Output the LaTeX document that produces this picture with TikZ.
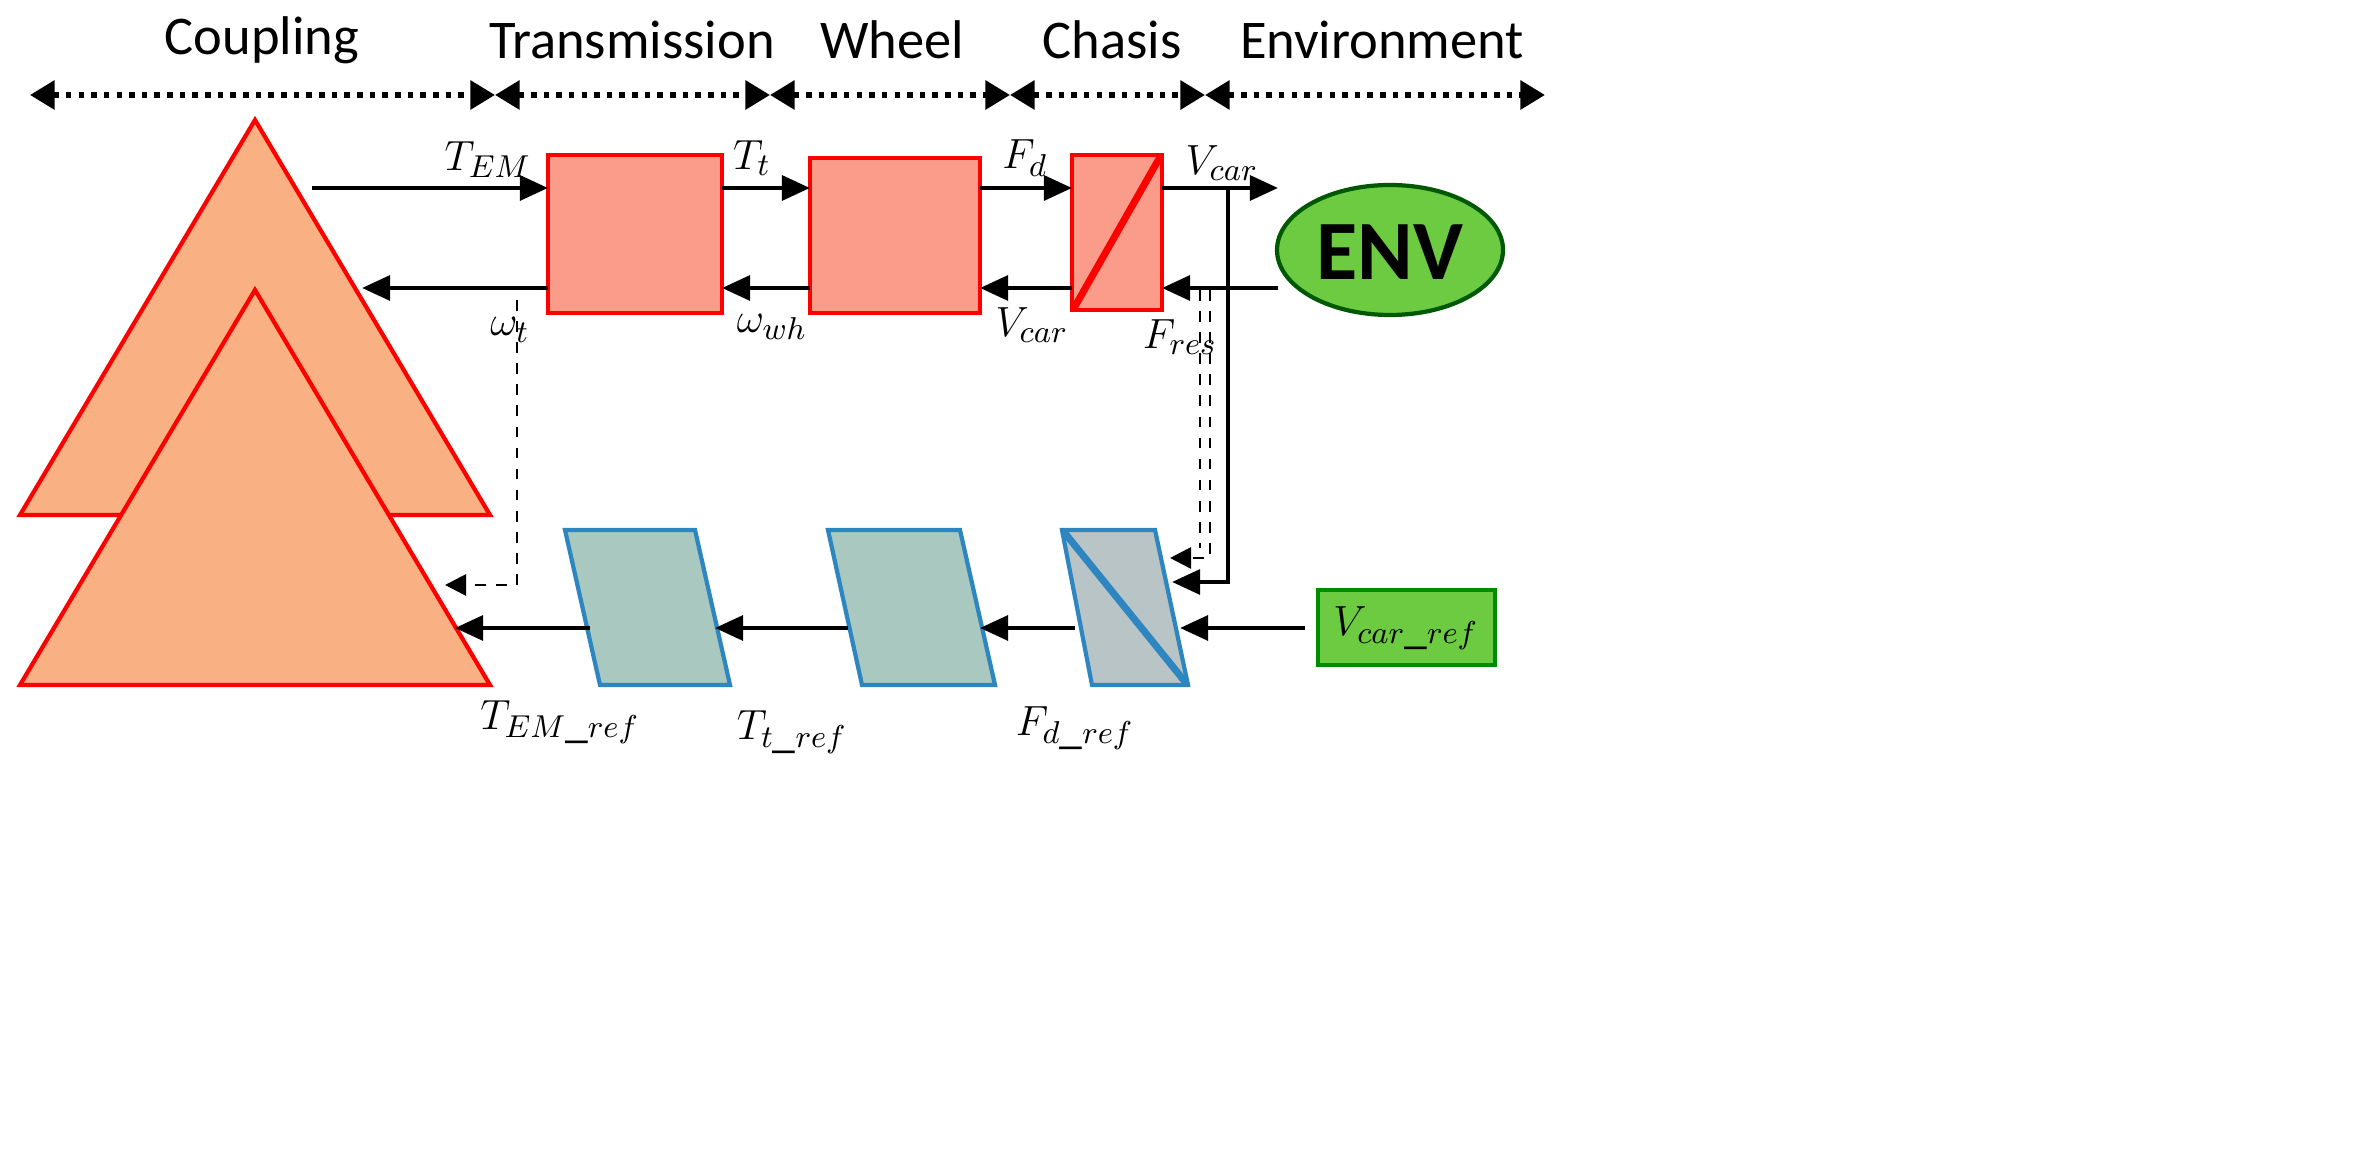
\documentclass[tikz,border=0pt]{standalone}
\usepackage{fontspec}
\setmainfont{Carlito}
\usetikzlibrary{arrows.meta,shapes.geometric}
\definecolor{tri}{HTML}{F9B083}
\definecolor{rbox}{HTML}{FB9C8A}
\definecolor{bpar}{HTML}{A8C8C0}
\definecolor{bgry}{HTML}{B8C4C6}
\definecolor{envg}{HTML}{6CCB41}
\definecolor{bline}{HTML}{2E86C1}
\begin{document}
\begin{tikzpicture}[x=0.01cm,y=-0.01cm,
 sig/.style={line width=1.3pt,-{Triangle[length=8pt,width=7pt]}},
 dsig/.style={dashed,line width=0.8pt,-{Triangle[length=6pt,width=6pt]}},
 hdr/.style={dotted,line width=1.6pt,{Triangle[length=7pt,width=8pt]}-{Triangle[length=7pt,width=8pt]}},
 lab/.style={font=\fontsize{15.5}{18}\selectfont},
 ml/.style={font=\fontsize{13}{15}\selectfont},
 rb/.style={draw=red,line width=1.2pt,fill=rbox},
 bp/.style={draw=bline,line width=1.2pt,fill=bpar}]
\useasboundingbox (0,0) rectangle (2358,1168);
% header
\foreach \a/\b in {30/495,495/770,770/1010,1010/1205,1205/1545}
  \draw[hdr] (\a,95) -- (\b,95);
\node[lab] (hc) at (262,40) {Coupling};
\node[lab] (ht) at (632,40) {Transmission};
\node[lab] (hw) at (892,40) {Wheel};
\node[lab] (hch) at (1112,40) {Chasis};
\node[lab] (he) at (1382,40) {Environment};
% triangles
\draw[draw=red,line width=1.2pt,fill=tri] (255,120) -- (490,515) -- (20,515) -- cycle;
\draw[draw=red,line width=1.2pt,fill=tri] (255,290) -- (490,685) -- (20,685) -- cycle;
% red boxes
\draw[rb] (548,155) rectangle (722,313);
\draw[rb] (810,158) rectangle (980,313);
\draw[rb] (1072,155) rectangle (1162,310);
\draw[red,line width=2pt] (1074,308) -- (1160,157);
\fill[envg,draw=green!35!black,line width=1.2pt] (1390,250) ellipse [x radius=113,y radius=65];
\node[font=\fontsize{24}{28}\selectfont\bfseries] (envt) at (1390,252) {ENV};
% top arrows
\draw[sig] (312,188) -- (548,188);
\draw[sig] (722,188) -- (810,188);
\draw[sig] (980,188) -- (1072,188);
\draw[sig] (1162,188) -- (1278,188);
\draw[sig] (548,288) -- (362,288);
\draw[sig] (810,288) -- (722,288);
\draw[sig] (1072,288) -- (980,288);
\draw[sig] (1278,288) -- (1162,288);
\node[ml] at (488,160) {$T_{EM}$};
\node[ml] at (752,158) {$T_t$};
\node[ml] at (1025,158) {$F_d$};
\node[ml] at (1222,163) {$V_{car}$};
\node[ml] at (510,330) {$\omega_t$};
\node[ml] at (772,327) {$\omega_{wh}$};
\node[ml] at (1032,325) {$V_{car}$};
\node[ml] at (1180,337) {$F_{res}$};
% blue parallelograms
\draw[bp] (565,530) -- (695,530) -- (730,685) -- (600,685) -- cycle;
\draw[bp] (828,530) -- (960,530) -- (995,685) -- (862,685) -- cycle;
\draw[bp,fill=bgry] (1062,530) -- (1155,530) -- (1188,685) -- (1092,685) -- cycle;
\draw[bline,line width=2pt] (1064,532) -- (1186,683);
% feedback
\draw[dsig] (517,300) -- (517,585) -- (445,585);
\draw[dsig] (1210,290) -- (1210,558) -- (1170,558);
\draw[dashed,line width=0.8pt] (1200,290) -- (1200,548);
\draw[sig] (1228,188) -- (1228,582) -- (1172,582);
% bottom arrows
\draw[sig] (1305,628) -- (1180,628);
\draw[sig] (1075,628) -- (980,628);
\draw[sig] (848,628) -- (715,628);
\draw[sig] (590,628) -- (455,628);
\draw[draw=green!55!black,line width=1.2pt,fill=envg] (1318,590) rectangle (1495,665);
\node[ml] (vr) at (1406,628) {$V_{car\_ref}$};
\node[ml] at (560,722) {$T_{EM\_ref}$};
\node[ml] at (792,732) {$T_{t\_ref}$};
\node[ml] at (1075,728) {$F_{d\_ref}$};
\end{tikzpicture}
\end{document}
